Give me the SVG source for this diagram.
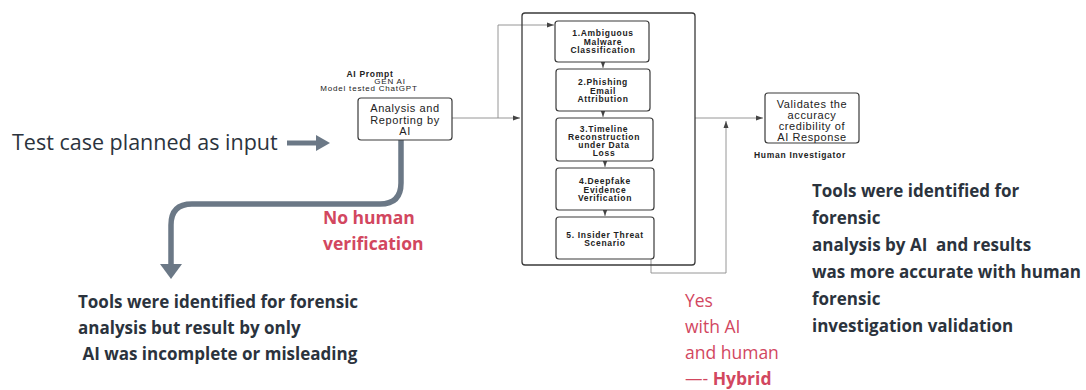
<svg xmlns="http://www.w3.org/2000/svg" width="1086" height="390" viewBox="0 0 1086 390">
<style>
.box{fill:#fff;stroke:#3a3a3a;stroke-width:1.2}
.st{font-family:"Liberation Sans",Arial,sans-serif;font-weight:bold;font-size:8.5px;letter-spacing:0.7px;fill:#222;text-anchor:middle}
.rt{font-family:"Liberation Sans",Arial,sans-serif;font-size:11px;letter-spacing:0.6px;fill:#222;text-anchor:middle}
.sm{font-family:"Liberation Sans",Arial,sans-serif;font-size:8px;letter-spacing:0.8px;fill:#222;text-anchor:middle}
.thin{fill:none;stroke:#8a8a8a;stroke-width:0.9}
.big{font-family:"Open Sans","Liberation Sans",sans-serif;fill:#2b333d}
.bold{font-family:"Open Sans","Liberation Sans",sans-serif;font-weight:bold;font-size:17px;fill:#2b333d}
.red{font-family:"Open Sans","Liberation Sans",sans-serif;font-size:17.5px;fill:#d2475f}
</style>
<defs>
<marker id="ah" markerWidth="8" markerHeight="8" refX="7" refY="4" orient="auto" markerUnits="userSpaceOnUse"><path d="M0,1.5 L7,4 L0,6.5 Z" fill="#444"/></marker>
</defs>
<rect width="1086" height="390" fill="#fff"/>

<g id="connectors">
<path class="thin" d="M452,118 L520,118" marker-end="url(#ah)"/>
<path class="thin" d="M498,118 L498,25 L554,25" marker-end="url(#ah)"/>
<path class="thin" d="M603,62 L603,68" marker-end="url(#ah)"/>
<path class="thin" d="M603,111 L603,117" marker-end="url(#ah)"/>
<path class="thin" d="M605,161 L605,167" marker-end="url(#ah)"/>
<path class="thin" d="M605,210 L605,216" marker-end="url(#ah)"/>
<path class="thin" d="M695,118 L763,118" marker-end="url(#ah)"/>
<path class="thin" d="M651,259 L651,273 L726,273 L726,121" marker-end="url(#ah)"/>
<path d="M287,143 L318,143" stroke="#6b7886" stroke-width="5" fill="none"/>
<path d="M316,135 L330,143 L316,151 Z" fill="#6b7886"/>
<path d="M401,140 L401,183 Q401,204 380,204 L192,204 Q171,204 171,225 L171,266" stroke="#6b7886" stroke-width="5.5" fill="none"/>
<path d="M160,264 L182,264 L171,279 Z" fill="#6b7886"/>
</g>

<g id="container"><rect x="522" y="13" width="173" height="252" rx="3" fill="none" stroke="#3a3a3a" stroke-width="1.3"/></g>

<g id="prompt">
<text class="st" x="370" y="77">AI Prompt</text>
<text class="sm" x="390" y="84">GEN AI</text>
<text class="sm" x="369" y="91">Model tested ChatGPT</text>
</g>

<g id="analysis">
<rect class="box" x="358" y="98" width="94" height="42" rx="3"/>
<text class="rt" x="405" y="112">Analysis and</text>
<text class="rt" x="405" y="124">Reporting by</text>
<text class="rt" x="405" y="135">AI</text>
</g>

<g id="n1">
<rect class="box" x="555" y="21" width="94" height="41" rx="3"/>
<text class="st" x="603" y="36">1.Ambiguous</text>
<text class="st" x="603" y="44.5">Malware</text>
<text class="st" x="603" y="53">Classification</text>
</g>
<g id="n2">
<rect class="box" x="556" y="69" width="94" height="42" rx="3"/>
<text class="st" x="603" y="85">2.Phishing</text>
<text class="st" x="603" y="93.5">Email</text>
<text class="st" x="603" y="102">Attribution</text>
</g>
<g id="n3">
<rect class="box" x="556" y="118" width="97" height="43" rx="3"/>
<text class="st" x="604" y="131.5">3.Timeline</text>
<text class="st" x="604" y="139.5">Reconstruction</text>
<text class="st" x="604" y="147.5">under Data</text>
<text class="st" x="604" y="155.5">Loss</text>
</g>
<g id="n4">
<rect class="box" x="556" y="168" width="98" height="42" rx="3"/>
<text class="st" x="605" y="184">4.Deepfake</text>
<text class="st" x="605" y="192.5">Evidence</text>
<text class="st" x="605" y="201">Verification</text>
</g>
<g id="n5">
<rect class="box" x="556" y="217" width="98" height="42" rx="3"/>
<text class="st" x="605" y="238">5. Insider Threat</text>
<text class="st" x="605" y="246">Scenario</text>
</g>

<g id="validate">
<rect class="box" x="765" y="93" width="94" height="50" rx="3"/>
<text class="rt" x="812" y="108">Validates the</text>
<text class="rt" x="812" y="119">accuracy</text>
<text class="rt" x="812" y="130">credibility of</text>
<text class="rt" x="812" y="141">AI Response</text>
<text class="st" x="800" y="158">Human Investigator</text>
</g>

<g id="input">
<text class="big" x="12" y="150" font-size="21.5">Test case planned as input</text>
</g>

<g id="labels">
<text class="red" font-weight="bold" x="323" y="224">No human</text>
<text class="red" font-weight="bold" x="323" y="250">verification</text>
<text class="red" x="685" y="307">Yes</text>
<text class="red" x="685" y="333">with AI</text>
<text class="red" x="685" y="359">and human</text>
<text class="red" x="685" y="385">—- <tspan font-weight="bold">Hybrid</tspan></text>
</g>

<g id="aiOnly">
<text class="bold" x="78" y="308">Tools were identified for forensic</text>
<text class="bold" x="78" y="334">analysis but result by only</text>
<text class="bold" x="78" y="360" xml:space="preserve"> AI was incomplete or misleading</text>
</g>

<g id="hybrid">
<text class="bold" x="812" y="197">Tools were identified for</text>
<text class="bold" x="812" y="224">forensic</text>
<text class="bold" x="812" y="251" xml:space="preserve">analysis by AI  and results</text>
<text class="bold" x="812" y="278">was more accurate with human</text>
<text class="bold" x="812" y="305">forensic</text>
<text class="bold" x="812" y="332">investigation validation</text>
</g>
</svg>
